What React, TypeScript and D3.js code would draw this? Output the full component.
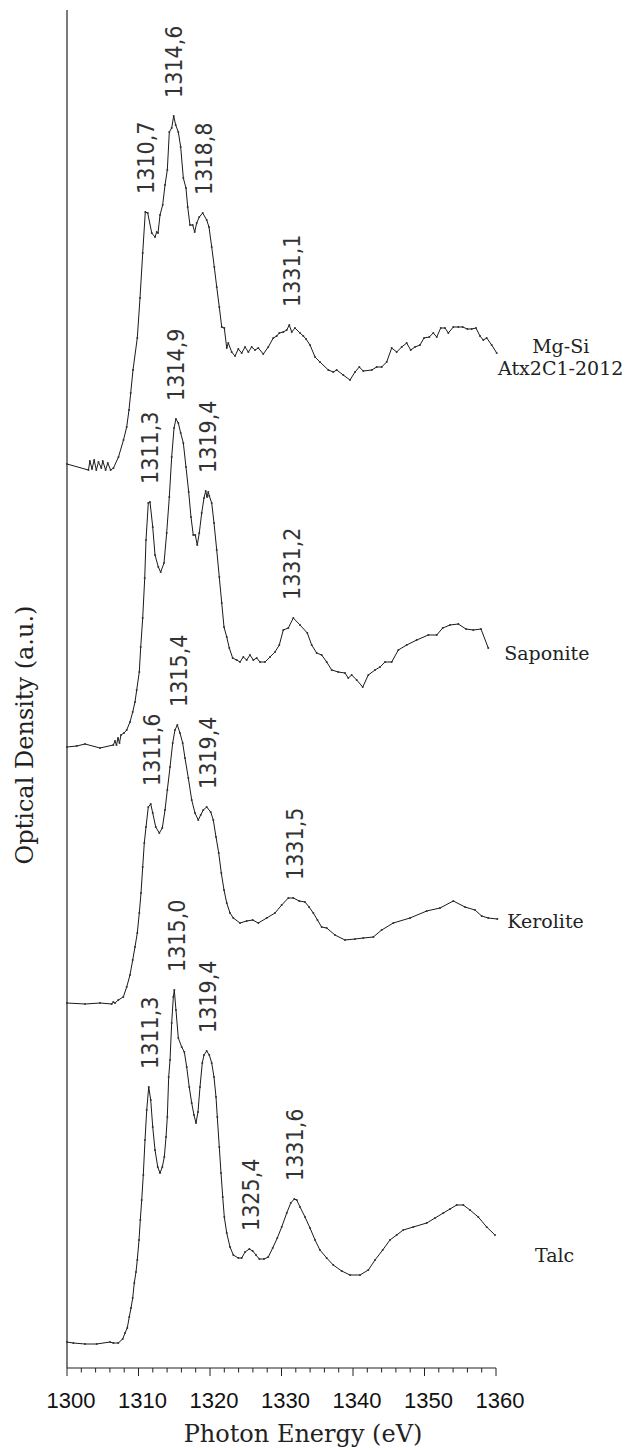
import React from "react";
import * as d3 from "d3";

// photon energy (eV) and stacked optical density (a.u.) for each spectrum
const mgSiE = [1300.0, 1303.0, 1303.2, 1303.5, 1303.8, 1304.1, 1304.4, 1304.8, 1305.0, 1305.4, 1305.7, 1306.1, 1306.5, 1307.2, 1307.9, 1308.35, 1308.67, 1308.91, 1309.23, 1309.83, 1310.21, 1310.59, 1310.95, 1311.29, 1311.85, 1312.31, 1312.55, 1312.73, 1313.01, 1313.38, 1313.71, 1314.03, 1314.31, 1314.64, 1314.92, 1315.2, 1315.57, 1315.9, 1316.27, 1316.64, 1316.88, 1317.2, 1317.58, 1317.86, 1318.14, 1318.5, 1318.98, 1319.54, 1319.86, 1320.24, 1320.6, 1320.94, 1321.3, 1321.64, 1322.0, 1322.34, 1322.56, 1323.03, 1323.5, 1323.96, 1324.43, 1324.9, 1325.36, 1325.83, 1326.29, 1326.76, 1327.45, 1328.15, 1328.85, 1329.33, 1329.69, 1330.25, 1330.73, 1331.09, 1331.43, 1331.89, 1332.59, 1333.05, 1333.43, 1333.99, 1334.69, 1335.38, 1336.55, 1337.24, 1337.72, 1338.64, 1339.58, 1340.28, 1340.88, 1341.44, 1342.62, 1343.31, 1344.01, 1344.71, 1345.41, 1346.11, 1346.81, 1347.51, 1348.07, 1348.67, 1349.37, 1349.93, 1350.67, 1351.23, 1351.71, 1352.27, 1352.87, 1353.33, 1354.03, 1354.73, 1355.34, 1355.99, 1356.6, 1357.2, 1357.76, 1358.22, 1358.7, 1359.4, 1360.1];
const mgSiOD = [9.04, 8.98, 9.07, 8.99, 9.08, 8.98, 9.06, 9.0, 9.07, 8.98, 9.05, 8.98, 9.0, 9.11, 9.28, 9.41, 9.58, 9.75, 9.98, 10.3, 10.7, 11.15, 11.56, 11.55, 11.35, 11.31, 11.36, 11.35, 11.53, 11.63, 11.83, 11.98, 12.36, 12.4, 12.52, 12.43, 12.36, 12.21, 11.9, 11.8, 11.61, 11.43, 11.43, 11.36, 11.45, 11.51, 11.55, 11.48, 11.41, 11.21, 11.01, 10.81, 10.61, 10.41, 10.4, 10.2, 10.25, 10.16, 10.12, 10.19, 10.15, 10.21, 10.16, 10.21, 10.18, 10.2, 10.14, 10.21, 10.3, 10.32, 10.35, 10.36, 10.38, 10.43, 10.36, 10.4, 10.35, 10.32, 10.29, 10.23, 10.11, 10.06, 9.98, 9.96, 9.98, 9.93, 9.88, 9.96, 10.01, 9.97, 9.98, 10.01, 10.01, 10.06, 10.2, 10.16, 10.21, 10.25, 10.18, 10.21, 10.23, 10.3, 10.31, 10.35, 10.31, 10.4, 10.4, 10.35, 10.41, 10.41, 10.41, 10.39, 10.39, 10.4, 10.32, 10.28, 10.3, 10.23, 10.15];

const saponiteE = [1300.0, 1301.36, 1302.52, 1304.62, 1306.48, 1306.71, 1306.92, 1307.13, 1307.34, 1307.55, 1307.97, 1308.35, 1308.81, 1309.19, 1309.51, 1309.75, 1310.11, 1310.31, 1310.59, 1310.87, 1311.05, 1311.37, 1311.61, 1311.99, 1312.31, 1312.77, 1313.1, 1313.57, 1313.94, 1314.31, 1314.64, 1314.97, 1315.24, 1315.57, 1315.9, 1316.27, 1316.64, 1317.02, 1317.34, 1317.66, 1317.94, 1318.22, 1318.5, 1318.84, 1319.16, 1319.4, 1319.58, 1319.76, 1319.9, 1320.24, 1320.56, 1320.94, 1321.3, 1321.64, 1321.96, 1322.34, 1322.7, 1323.17, 1323.73, 1324.2, 1324.66, 1325.13, 1325.59, 1326.06, 1326.53, 1326.99, 1327.69, 1328.39, 1329.09, 1329.69, 1330.25, 1330.95, 1331.65, 1332.59, 1333.61, 1334.22, 1334.92, 1335.62, 1336.32, 1337.02, 1337.94, 1338.88, 1339.34, 1339.82, 1340.52, 1341.36, 1342.14, 1343.08, 1343.78, 1344.48, 1345.41, 1346.34, 1347.51, 1348.91, 1350.53, 1351.71, 1352.55, 1353.57, 1354.73, 1355.8, 1356.83, 1357.9, 1358.92];
const saponiteOD = [6.21, 6.22, 6.24, 6.2, 6.23, 6.27, 6.23, 6.3, 6.25, 6.33, 6.35, 6.38, 6.46, 6.56, 6.66, 6.78, 6.96, 7.21, 7.5, 7.9, 8.28, 8.65, 8.66, 8.41, 8.13, 8.01, 7.96, 8.05, 8.35, 8.71, 9.11, 9.4, 9.49, 9.45, 9.35, 9.25, 9.01, 8.76, 8.51, 8.33, 8.33, 8.23, 8.35, 8.55, 8.7, 8.77, 8.71, 8.76, 8.72, 8.65, 8.45, 8.18, 7.91, 7.65, 7.41, 7.31, 7.2, 7.1, 7.08, 7.06, 7.11, 7.08, 7.13, 7.08, 7.1, 7.06, 7.06, 7.11, 7.16, 7.23, 7.38, 7.4, 7.5, 7.43, 7.35, 7.23, 7.15, 7.13, 7.06, 6.98, 6.96, 6.95, 6.9, 6.93, 6.88, 6.81, 6.93, 6.98, 7.01, 7.06, 7.06, 7.18, 7.23, 7.28, 7.33, 7.33, 7.4, 7.43, 7.44, 7.39, 7.38, 7.39, 7.2];

const keroliteE = [1300.0, 1302.52, 1304.62, 1306.25, 1306.48, 1306.71, 1307.17, 1307.87, 1308.35, 1308.81, 1309.19, 1309.51, 1309.83, 1310.11, 1310.35, 1310.59, 1310.81, 1311.05, 1311.37, 1311.71, 1311.99, 1312.41, 1312.91, 1313.33, 1313.71, 1314.03, 1314.41, 1314.78, 1315.1, 1315.43, 1315.8, 1316.18, 1316.5, 1316.97, 1317.44, 1317.9, 1318.36, 1318.7, 1319.06, 1319.54, 1320.1, 1320.46, 1320.84, 1321.22, 1321.58, 1321.96, 1322.34, 1322.8, 1323.26, 1324.2, 1325.13, 1325.97, 1326.76, 1327.93, 1329.09, 1330.03, 1330.95, 1331.65, 1332.49, 1333.29, 1333.85, 1334.45, 1335.03, 1335.62, 1336.32, 1337.48, 1338.88, 1340.28, 1341.44, 1342.84, 1344.01, 1345.64, 1347.97, 1350.31, 1352.17, 1354.03, 1355.66, 1357.06, 1358.0, 1358.92, 1360.18];
const keroliteOD = [3.65, 3.64, 3.65, 3.64, 3.66, 3.65, 3.68, 3.71, 3.81, 3.93, 4.08, 4.21, 4.35, 4.55, 4.75, 5.01, 5.25, 5.41, 5.61, 5.64, 5.55, 5.41, 5.35, 5.4, 5.58, 5.78, 6.01, 6.25, 6.38, 6.43, 6.35, 6.25, 6.1, 5.9, 5.68, 5.55, 5.48, 5.53, 5.58, 5.61, 5.56, 5.48, 5.31, 5.15, 4.95, 4.78, 4.65, 4.55, 4.5, 4.45, 4.47, 4.48, 4.45, 4.5, 4.55, 4.63, 4.7, 4.7, 4.67, 4.66, 4.61, 4.55, 4.48, 4.41, 4.4, 4.33, 4.28, 4.29, 4.3, 4.31, 4.38, 4.45, 4.5, 4.57, 4.6, 4.67, 4.61, 4.58, 4.52, 4.5, 4.49];

const talcE = [1300.0, 1300.88, 1302.52, 1304.15, 1306.01, 1306.48, 1307.17, 1307.79, 1308.11, 1308.43, 1308.71, 1308.95, 1309.19, 1309.41, 1309.65, 1309.83, 1310.07, 1310.25, 1310.45, 1310.67, 1310.91, 1311.15, 1311.43, 1311.71, 1311.99, 1312.31, 1312.69, 1313.01, 1313.33, 1313.61, 1313.85, 1314.03, 1314.22, 1314.41, 1314.64, 1314.87, 1315.01, 1315.24, 1315.57, 1316.04, 1316.41, 1316.74, 1317.1, 1317.44, 1317.76, 1318.04, 1318.32, 1318.6, 1318.92, 1319.16, 1319.54, 1319.9, 1320.24, 1320.56, 1320.84, 1321.02, 1321.3, 1321.54, 1321.78, 1322.0, 1322.34, 1322.8, 1323.26, 1323.96, 1324.43, 1324.9, 1325.5, 1325.97, 1326.43, 1326.9, 1327.55, 1328.15, 1328.77, 1329.41, 1330.03, 1330.73, 1331.29, 1331.79, 1332.13, 1332.59, 1333.29, 1333.99, 1334.69, 1335.38, 1336.32, 1337.24, 1338.42, 1339.58, 1340.98, 1342.14, 1343.08, 1344.15, 1345.17, 1346.11, 1347.03, 1348.43, 1350.31, 1351.47, 1352.63, 1353.57, 1354.5, 1355.43, 1356.36, 1357.52, 1358.7, 1359.86];
const talcOD = [0.26, 0.25, 0.24, 0.24, 0.26, 0.25, 0.25, 0.29, 0.35, 0.4, 0.51, 0.6, 0.7, 0.85, 0.96, 1.08, 1.28, 1.48, 1.68, 1.93, 2.28, 2.58, 2.81, 2.68, 2.41, 2.18, 2.01, 1.95, 2.01, 2.11, 2.31, 2.51, 2.91, 3.08, 3.45, 3.71, 3.78, 3.58, 3.3, 3.21, 3.16, 3.01, 2.81, 2.65, 2.53, 2.45, 2.56, 2.81, 3.05, 3.13, 3.17, 3.13, 3.05, 2.91, 2.71, 2.51, 2.21, 1.95, 1.71, 1.51, 1.35, 1.21, 1.13, 1.1, 1.1, 1.16, 1.19, 1.17, 1.13, 1.09, 1.09, 1.11, 1.2, 1.3, 1.41, 1.55, 1.65, 1.69, 1.68, 1.61, 1.51, 1.4, 1.28, 1.18, 1.1, 1.03, 0.97, 0.93, 0.93, 0.98, 1.08, 1.18, 1.28, 1.33, 1.38, 1.41, 1.45, 1.5, 1.55, 1.59, 1.63, 1.63, 1.58, 1.51, 1.41, 1.33];

// peak annotations
const peaksMgSi = ["1310,7", "1314,6", "1318,8", "1331,1"];
const peaksSaponite = ["1311,3", "1314,9", "1319,4", "1331,2"];
const peaksKerolite = ["1311,6", "1315,4", "1319,4", "1331,5"];
const peaksTalc = ["1311,3", "1315,0", "1319,4", "1325,4", "1331,6"];

const namesMgSi = ["Mg-Si", "Atx2C1-2012"];
const namesSaponite = ["Saponite"];
const namesKerolite = ["Kerolite"];
const namesTalc = ["Talc"];

const xTicks = [1300, 1310, 1320, 1330, 1340, 1350, 1360];
const xMinorTicks = d3.range(1300, 1361, 2);

const width = 626;
const height = 1450;
const margin = { top: 10, right: 130, bottom: 82, left: 67 };

const serif = "'DejaVu Serif', serif";
const peakFont = "'DejaVu Sans Condensed', 'DejaVu Sans', sans-serif";

// where the sample names sit relative to the last point of each curve
const nameLayout = [
  { dx: 64, dy: 0, anchor: "middle", lineGap: 22 },
  { dx: 16, dy: 12, anchor: "start", lineGap: 0 },
  { dx: 10, dy: 9, anchor: "start", lineGap: 0 },
  { dx: 40, dy: 27, anchor: "start", lineGap: 0 },
];

function App() {
  const x = d3
    .scaleLinear()
    .domain([1300, 1360])
    .range([margin.left, width - margin.right]);
  const y = d3
    .scaleLinear()
    .domain([0, 13.58])
    .range([height - margin.bottom, margin.top]);

  const spectra = [
    { e: mgSiE, od: mgSiOD, peaks: peaksMgSi, names: namesMgSi },
    { e: saponiteE, od: saponiteOD, peaks: peaksSaponite, names: namesSaponite },
    { e: keroliteE, od: keroliteOD, peaks: peaksKerolite, names: namesKerolite },
    { e: talcE, od: talcOD, peaks: peaksTalc, names: namesTalc },
  ];

  const line = d3
    .line<[number, number]>()
    .x((d) => x(d[0]))
    .y((d) => y(d[1]));

  const axisY = y(0);

  return (
    <svg
      width={width}
      height={height}
      style={{ position: "absolute", left: 0, top: 0, background: "#fff" }}
    >
      {/* left axis line */}
      <line x1={x(1300)} x2={x(1300)} y1={y(13.58)} y2={axisY} stroke="#222" strokeWidth={1.2} />
      {/* bottom axis */}
      <line x1={x(1300)} x2={x(1360)} y1={axisY} y2={axisY} stroke="#222" strokeWidth={1.2} />
      {xMinorTicks.map((t) => (
        <line
          key={"m" + t}
          x1={x(t)}
          x2={x(t)}
          y1={axisY}
          y2={axisY + (t % 10 === 0 ? 8 : 4.5)}
          stroke="#222"
          strokeWidth={1}
        />
      ))}
      {xTicks.map((t) => (
        <text
          key={"t" + t}
          x={x(t) + 4}
          y={axisY + 40}
          textAnchor="middle"
          fontFamily="'Liberation Sans', Arial, sans-serif"
          fontSize={22}
          fill="#111"
        >
          {t}
        </text>
      ))}
      <text
        x={303}
        y={axisY + 74}
        textAnchor="middle"
        fontFamily={serif}
        fontSize={24}
        fill="#222"
      >
        Photon Energy (eV)
      </text>
      <text
        transform={`translate(25, 735) rotate(-90)`}
        textAnchor="middle"
        dy="0.35em"
        fontFamily={serif}
        fontSize={24}
        fill="#222"
      >
        Optical Density (a.u.)
      </text>

      {spectra.map((s, i) => {
        const pts = s.e.map((e, j) => [e, s.od[j]] as [number, number]);
        const last = pts[pts.length - 1];
        const lay = nameLayout[i];
        return (
          <g key={i}>
            <path d={line(pts) || ""} fill="none" stroke="#1a1a1a" strokeWidth={1} />
            {pts.map((p, j) => (
              <circle key={j} cx={x(p[0])} cy={y(p[1])} r={1} fill="#333" />
            ))}
            {s.peaks.map((label) => {
              const v = parseFloat(label.replace(",", "."));
              const near = pts.filter((p) => Math.abs(p[0] - v) <= 1);
              const top = d3.max(near, (p) => p[1]) ?? 0;
              return (
                <text
                  key={label}
                  transform={`translate(${x(v) + 2}, ${y(top) - 18}) rotate(-90)`}
                  dy="0.36em"
                  fontFamily={peakFont}
                  fontStretch="condensed"
                  fontSize={23}
                  fill="#333"
                >
                  {label}
                </text>
              );
            })}
            {s.names.map((n, k) => (
              <text
                key={n}
                x={x(last[0]) + lay.dx}
                y={y(last[1]) + lay.dy + k * lay.lineGap}
                textAnchor={lay.anchor}
                fontFamily={serif}
                fontSize={19}
                fill="#222"
              >
                {n}
              </text>
            ))}
          </g>
        );
      })}
    </svg>
  );
}

export default App;
